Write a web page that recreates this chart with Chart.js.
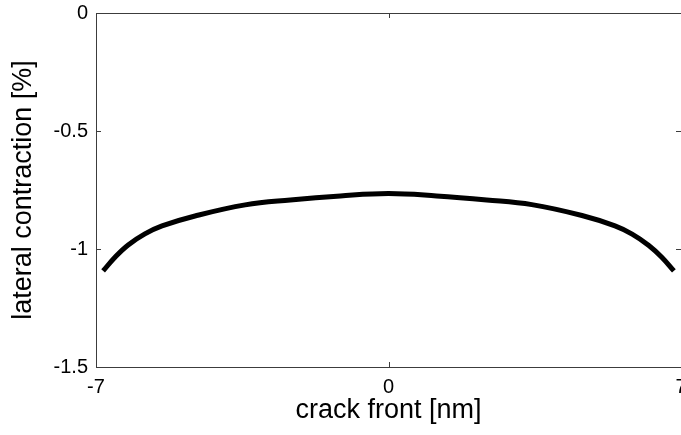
<!DOCTYPE html>
<html>
<head>
<meta charset="utf-8">
<script src="https://cdn.jsdelivr.net/npm/chart.js@4.4.0/dist/chart.umd.min.js"></script>
<style>
  html, body { margin: 0; padding: 0; background: #fff; overflow: hidden; }
</style>
</head>
<body>
<canvas id="contractionChart" width="681" height="435"></canvas>
<script>
// Data
const crackFront = [-6.83, -6.54, -6.23, -5.83, -5.42, -4.63, -3.43, -2.35, -1.15, 0, 1.15, 2.35, 3.43, 4.63, 5.42, 5.83, 6.23, 6.54, 6.83];
const contraction = [-1.093, -1.034, -0.983, -0.936, -0.902, -0.86, -0.813, -0.792, -0.775, -0.765, -0.775, -0.792, -0.812, -0.858, -0.902, -0.937, -0.985, -1.035, -1.093];
const xTicks = [-7, 0, 7];
const yTicks = [0, -0.5, -1, -1.5];

const FONT = 'Liberation Sans, Arial, Helvetica, sans-serif';
const AXIS_COLOR = '#3c3c3c';

// MATLAB style box with inward ticks on all four sides
const boxPlugin = {
  id: 'matlabBox',
  afterDatasetsDraw(chart) {
    const { ctx, chartArea: a, scales } = chart;
    const len = 5;
    ctx.save();
    ctx.strokeStyle = AXIS_COLOR;
    ctx.lineWidth = 1;
    ctx.beginPath();
    ctx.rect(a.left + 0.5, a.top + 0.5, a.right - a.left, a.bottom - a.top);
    xTicks.forEach(v => {
      const px = Math.round(scales.x.getPixelForValue(v)) + 0.5;
      ctx.moveTo(px, a.bottom);
      ctx.lineTo(px, a.bottom - len);
      ctx.moveTo(px, a.top);
      ctx.lineTo(px, a.top + len);
    });
    yTicks.forEach(v => {
      const py = Math.round(scales.y.getPixelForValue(v)) + 0.5;
      ctx.moveTo(a.left, py);
      ctx.lineTo(a.left + len, py);
      ctx.moveTo(a.right, py);
      ctx.lineTo(a.right - len, py);
    });
    ctx.stroke();
    ctx.restore();
  }
};

const ctx = document.getElementById('contractionChart').getContext('2d');

new Chart(ctx, {
  type: 'scatter',
  data: {
    datasets: [{
      data: crackFront.map((x, i) => ({ x: x, y: contraction[i] })),
      showLine: true,
      borderColor: '#000',
      borderWidth: 5,
      pointRadius: 0,
      tension: 0.4,
      fill: false
    }]
  },
  options: {
    responsive: false,
    animation: false,
    layout: { padding: { top: 13, right: 0, left: 0, bottom: 0 } },
    plugins: {
      legend: { display: false },
      tooltip: { enabled: false }
    },
    scales: {
      x: {
        type: 'linear',
        min: -7,
        max: 7,
        afterBuildTicks: scale => { scale.ticks = xTicks.map(v => ({ value: v })); },
        afterFit: scale => { scale.height = 68; scale.paddingLeft = 0; scale.paddingRight = 0; },
        grid: { display: false, drawTicks: false },
        border: { display: false },
        ticks: {
          padding: 8,
          color: '#000',
          maxRotation: 0,
          autoSkip: false,
          callback: v => String(v),
          font: { family: FONT, size: 20 }
        },
        title: {
          display: true,
          text: 'crack front [nm]',
          color: '#000',
          font: { family: FONT, size: 27 },
          padding: { top: 8, bottom: 8 }
        }
      },
      y: {
        type: 'linear',
        min: -1.5,
        max: 0,
        afterBuildTicks: scale => { scale.ticks = yTicks.map(v => ({ value: v })); },
        afterFit: scale => { scale.width = 96; scale.paddingTop = 0; scale.paddingBottom = 0; },
        grid: { display: false, drawTicks: false },
        border: { display: false },
        ticks: {
          padding: 8,
          color: '#000',
          autoSkip: false,
          callback: v => String(v),
          font: { family: FONT, size: 20 }
        },
        title: {
          display: true,
          text: 'lateral contraction [%]',
          color: '#000',
          font: { family: FONT, size: 27 },
          padding: { top: 7, bottom: 7 }
        }
      }
    }
  },
  plugins: [boxPlugin]
});
</script>
</body>
</html>
